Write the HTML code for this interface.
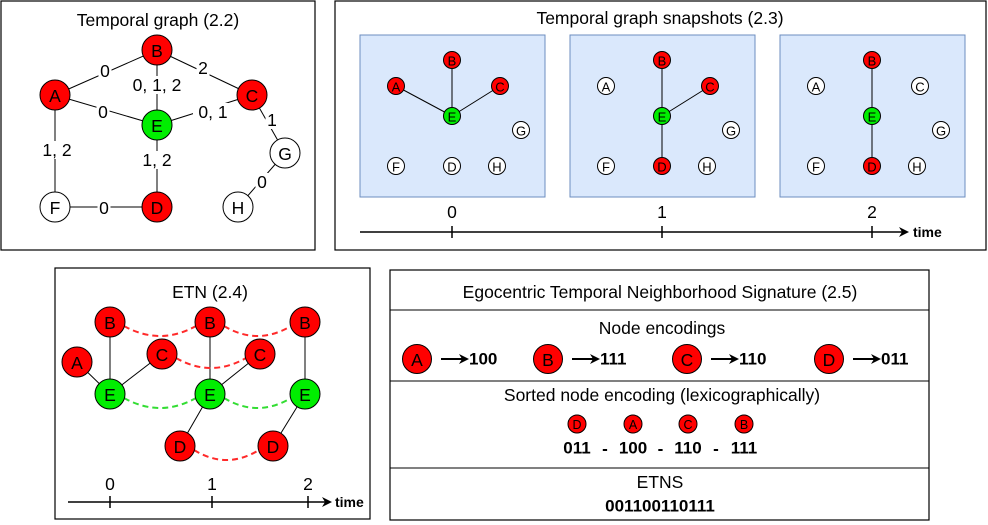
<!DOCTYPE html>
<html><head><meta charset="utf-8"><style>
html,body{margin:0;padding:0;background:#fff;}
svg{display:block;font-family:"Liberation Sans",sans-serif;}
</style></head><body>
<svg id="s" width="988" height="525" viewBox="0 0 988 525" xmlns="http://www.w3.org/2000/svg">
<defs><marker id="ar" markerWidth="10" markerHeight="10" refX="8" refY="5" orient="auto" markerUnits="userSpaceOnUse"><path d="M0,0 L10,5 L0,10 L3,5 z" fill="#000"/></marker></defs>
<rect x="1" y="1" width="314" height="249" fill="#fff" stroke="#000" stroke-width="1.2"/>
<rect x="335" y="1" width="651" height="249" fill="#fff" stroke="#000" stroke-width="1.2"/>
<rect x="55" y="268" width="315" height="251" fill="#fff" stroke="#000" stroke-width="1.2"/>
<rect x="390" y="270" width="539" height="250" fill="#fff" stroke="#000" stroke-width="1.2"/>
<g id="g"></g>
</svg>
<script>
const RED="#ff0000",GRN="#00ee00",WHT="#ffffff";
const FS=17.5, FB=17;
const g=document.getElementById('g');
const NS="http://www.w3.org/2000/svg";
function el(t,a,p){const e=document.createElementNS(NS,t);for(const k in a)e.setAttribute(k,a[k]);(p||g).appendChild(e);return e;}
function txt(x,y,s,size,w,name,anchor){const e=el('text',{x:x,y:y,'font-size':size,'font-weight':w||'normal','text-anchor':anchor||'middle','dominant-baseline':'central',fill:'#000'});e.textContent=s;


return e;}
function line(x1,y1,x2,y2,name,sw){const e=el('line',{x1:x1,y1:y1,x2:x2,y2:y2,stroke:'#000','stroke-width':sw||1});


return e;}
function node(x,y,r,fill,label,size,name){const c=el('circle',{cx:x,cy:y,r:r,fill:fill,stroke:'#000','stroke-width':1});


txt(x,y+1,label,size,'normal',name+'-label');}

// Panel 1
txt(158,20,"Temporal graph (2.2)",FS,'normal','temporal-graph-title');
const P1={A:[55,95,RED],B:[157,50,RED],C:[252,95,RED],E:[157,125,GRN],G:[285,153,WHT],F:[55,207,WHT],D:[157,207,RED],H:[238,207,WHT]};
const E1=[["A","B","0",105,71],["B","C","2",203,68],["B","E","0, 1, 2",157,85],["A","E","0",103,112],["E","C","0, 1",213,112],["C","G","1",272,120],["A","F","1, 2",57,150],["E","D","1, 2",157,160],["F","D","0",104,208],["G","H","0",262,182]];
E1.forEach(e=>{const a=P1[e[0]],b=P1[e[1]];line(a[0],a[1],b[0],b[1],'edge-'+e[0]+e[1]);});
E1.forEach(e=>{const w=e[2].length*9+4;const r=el('rect',{x:e[3]-w/2,y:e[4]-9,width:w,height:18,fill:'#fff'});


txt(e[3],e[4],e[2],FS,'normal','edge-label-'+e[0]+e[1]);});
for(const k in P1){const n=P1[k];node(n[0],n[1],15,n[2],k,FS,'node-'+k);}

// Panel 2
txt(660,18,"Temporal graph snapshots (2.3)",FS,'normal','snapshots-title');
const SN={A:[36,51],B:[92,25],C:[140,51],E:[92,81],G:[161,95],F:[36,131],D:[92,131],H:[137,131]};
const snapX=[360,570,780];
const snapRed=[["A","B","C"],["B","C","D"],["B","D"]];
const snapEdges=[[["A","E"],["B","E"],["C","E"]],[["B","E"],["C","E"],["D","E"]],[["B","E"],["D","E"]]];
snapX.forEach((sx,i)=>{const r=el('rect',{x:sx,y:35,width:185,height:162,fill:'#dae8fc',stroke:'#6c8ebf','stroke-width':1});


snapEdges[i].forEach(e=>{const a=SN[e[0]],b=SN[e[1]];line(sx+a[0],35+a[1],sx+b[0],35+b[1],'snapshot-edge');});
for(const k in SN){const f=k==="E"?GRN:(snapRed[i].includes(k)?RED:WHT);node(sx+SN[k][0],35+SN[k][1],8.5,f,k,13,'snapshot-'+i+'-node-'+k);}
});
function axis(x1,x2,y,ticks,labelY,timeX,pre){const l=line(x1,y,x2,y,pre+'-time-axis',1.5);l.setAttribute('marker-end','url(#ar)');
ticks.forEach((t,i)=>{line(t,y-6,t,y+6,pre+'-tick-'+i,1.5);txt(t,labelY,String(i),FS,'normal',pre+'-tick-label-'+i);});
txt(timeX,y,"time",14,'bold',pre+'-time-label','start');}
axis(360,907,232,[452,662,872],212,913,'snapshots');

// Panel 3 ETN
txt(210,292,"ETN (2.4)",FS,'normal','etn-title');
const EN={B0:[110,322],A0:[77,362],C0:[162,354],E0:[110,394],B1:[210,322],C1:[260,354],E1:[210,394],D1:[180,446],B2:[305,322],E2:[305,394],D2:[273,446]};
const ENred=[["B0","B1"],["B1","B2"],["C0","C1"],["D1","D2"]];
const ENgreen=[["E0","E1"],["E1","E2"]];
const ENe=[["B0","E0"],["A0","E0"],["C0","E0"],["B1","E1"],["C1","E1"],["E1","D1"],["B2","E2"],["E2","D2"]];
ENe.forEach(e=>{const a=EN[e[0]],b=EN[e[1]];line(a[0],a[1],b[0],b[1],'etn-edge-'+e[0]+e[1]);});
function dash(list,col,nm){list.forEach(e=>{const a=EN[e[0]],b=EN[e[1]];const mx=(a[0]+b[0])/2;
const p=el('path',{d:`M${a[0]+14},${a[1]+4} Q${mx},${a[1]+24} ${b[0]-14},${b[1]+4}`,fill:'none',stroke:col,'stroke-width':2,'stroke-dasharray':'6,4'});

});}
dash(ENred,'#ff2a2a','etn-temporal-link');dash(ENgreen,'#33dd33','etn-ego-link');
for(const k in EN){const n=EN[k];node(n[0],n[1],15,k[0]==="E"?GRN:RED,k[0],FS,'etn-node-'+k);}
axis(68,330,502,[110,212,308],484,335,'etn');

// Panel 4
line(390,310,929,310,'etns-divider-1');line(390,381,929,381,'etns-divider-2');line(390,468,929,468,'etns-divider-3');
txt(660,292,"Egocentric Temporal Neighborhood Signature (2.5)",FS,'normal','etns-title');
txt(662,328,"Node encodings",FS,'normal','node-encodings-title');
const encNodes=["A","B","C","D"];
const encCodes=["100","111","110","011"];
const encX=[417,548,687,829];
encNodes.forEach((k,i)=>{const x=encX[i];node(x,359,14.5,RED,k,FS,'encoding-node-'+k);
const a=line(x+24,359,x+50,359,'encoding-arrow-'+k,2);a.setAttribute('marker-end','url(#ar)');
txt(x+52,359,encCodes[i],FB,'bold','encoding-code-'+k,'start');});
txt(662,395,"Sorted node encoding (lexicographically)",FS,'normal','sorted-title');
const sortedNodes=["D","A","C","B"];
const sortedX=[577,633,688,744];
sortedNodes.forEach((k,i)=>{node(sortedX[i],424,9,RED,k,12.5,'sorted-node-'+k);
txt(sortedX[i],448,encCodes[encNodes.indexOf(k)],FB,'bold','sorted-code-'+k);
if(i<3)txt((sortedX[i]+sortedX[i+1])/2,449,"-",FB,'bold','sorted-dash-'+i);});
txt(660,482,"ETNS",FS,'normal','etns-label');
txt(660,506,"001100110111",FB,'bold','etns-value');
</script>
</body></html>
